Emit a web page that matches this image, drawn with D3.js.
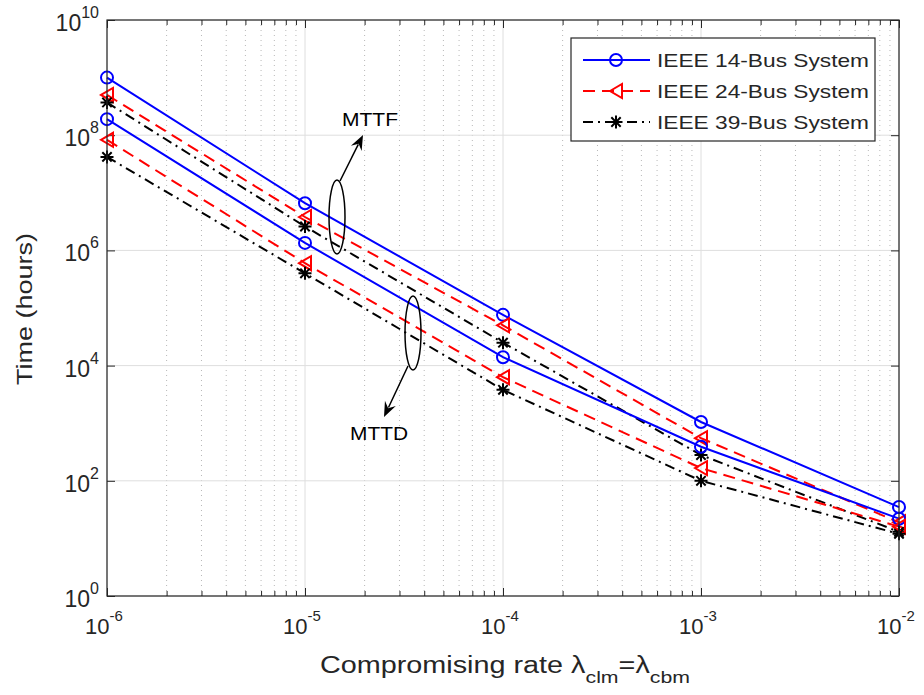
<!DOCTYPE html>
<html>
<head>
<meta charset="utf-8">
<script src="https://cdn.jsdelivr.net/npm/d3@7"></script>
<style>
  body { margin: 0; background: #fff; }
  text { font-family: "Liberation Sans", Arial, Helvetica, sans-serif; fill: #262626; }
</style>
</head>
<body>
<svg id="chart" width="924" height="695"></svg>
<script>
// Compromising rate (lambda_clm = lambda_cbm)
const rates = [1e-6, 1e-5, 1e-4, 1e-3, 1e-2];

// Mean time to failure (hours)
const mttf14 = [1.0e9, 6.6e6, 7.6e4, 1.05e3, 35];
const mttf24 = [5.0e8, 3.8e6, 5.0e4, 5.5e2, 19];
const mttf39 = [3.7e8, 2.6e6, 2.5e4, 2.8e2, 13];

// Mean time to detection (hours)
const mttd14 = [1.9e8, 1.35e6, 1.4e4, 3.9e2, 22];
const mttd24 = [8.3e7, 6.0e5, 6.3e3, 1.66e2, 16];
const mttd39 = [4.2e7, 4.0e5, 3.8e3, 1.0e2, 12];

const systemNames = ["IEEE 14-Bus System", "IEEE 24-Bus System", "IEEE 39-Bus System"];
const xTickExps = [-6, -5, -4, -3, -2];
const yTickExps = [0, 2, 4, 6, 8, 10];

const styles = [
  { color: "#0000ff", dash: null, marker: "circle" },
  { color: "#ff0000", dash: "12,7", marker: "triangle" },
  { color: "#000000", dash: "10,5,2,5", marker: "star" }
];

const series = [
  { values: mttf14, sys: 0 }, { values: mttf24, sys: 1 }, { values: mttf39, sys: 2 },
  { values: mttd14, sys: 0 }, { values: mttd24, sys: 1 }, { values: mttd39, sys: 2 }
];

const svg = d3.select("#chart");
const L = 107, R = 899, T = 20, B = 596;

const x = d3.scaleLog().domain([1e-6, 1e-2]).range([L, R]);
const y = d3.scaleLog().domain([1, 1e10]).range([B, T]);

const xMinor = [];
for (let e = -6; e < -2; e++) for (let k = 2; k <= 9; k++) xMinor.push(k * Math.pow(10, e));
const xMajor = xTickExps.map(e => Math.pow(10, e));
const yMajor = yTickExps.map(e => Math.pow(10, e));

// grid
const grid = svg.append("g");
grid.selectAll(".minor").data(xMinor).join("line")
  .attr("x1", d => x(d)).attr("x2", d => x(d)).attr("y1", T).attr("y2", B)
  .attr("stroke", "#b8b8b8").attr("stroke-width", 1).attr("stroke-dasharray", "1,4");
grid.selectAll(".vmaj").data(xMajor).join("line")
  .attr("x1", d => x(d)).attr("x2", d => x(d)).attr("y1", T).attr("y2", B)
  .attr("stroke", "#dedede").attr("stroke-width", 1);
grid.selectAll(".hmaj").data(yMajor).join("line")
  .attr("x1", L).attr("x2", R).attr("y1", d => y(d)).attr("y2", d => y(d))
  .attr("stroke", "#dedede").attr("stroke-width", 1);

// axes with inward ticks
function styleAxis(g) {
  g.select(".domain").remove();
  g.selectAll("line").attr("stroke", "#262626");
}
svg.append("g").attr("transform", `translate(0,${B})`)
  .call(d3.axisBottom(x).tickValues(xMajor).tickSize(-8).tickFormat("")).call(styleAxis);
svg.append("g").attr("transform", `translate(0,${B})`)
  .call(d3.axisBottom(x).tickValues(xMinor).tickSize(-5).tickFormat("")).call(styleAxis);
svg.append("g").attr("transform", `translate(0,${T})`)
  .call(d3.axisTop(x).tickValues(xMajor).tickSize(-8).tickFormat("")).call(styleAxis);
svg.append("g").attr("transform", `translate(0,${T})`)
  .call(d3.axisTop(x).tickValues(xMinor).tickSize(-5).tickFormat("")).call(styleAxis);
svg.append("g").attr("transform", `translate(${L},0)`)
  .call(d3.axisLeft(y).tickValues(yMajor).tickSize(-8).tickFormat("")).call(styleAxis);
svg.append("g").attr("transform", `translate(${R},0)`)
  .call(d3.axisRight(y).tickValues(yMajor).tickSize(-8).tickFormat("")).call(styleAxis);

// tick labels with superscript exponents
xTickExps.forEach(e => {
  const t = svg.append("text").attr("x", x(Math.pow(10, e)) - 3).attr("y", 634)
    .attr("text-anchor", "middle").attr("font-size", 22);
  t.append("tspan").text("10");
  t.append("tspan").attr("dy", -13).attr("font-size", 15).text(String(e));
});
yTickExps.forEach(e => {
  const t = svg.append("text").attr("x", 99).attr("y", y(Math.pow(10, e)) + 11)
    .attr("text-anchor", "end").attr("font-size", 23);
  t.append("tspan").text("10");
  t.append("tspan").attr("dy", -13).attr("font-size", 16).text(String(e));
});

// data lines and markers
const line = d3.line().x((d, i) => x(rates[i])).y(d => y(d));

function drawMarker(g, type, color, cx, cy) {
  if (type === "circle") {
    g.append("circle").attr("cx", cx).attr("cy", cy).attr("r", 6)
      .attr("fill", "none").attr("stroke", color).attr("stroke-width", 2);
  } else if (type === "triangle") {
    g.append("path").attr("d", `M${cx - 6},${cy} L${cx + 6},${cy - 7} L${cx + 6},${cy + 7} Z`)
      .attr("fill", "none").attr("stroke", color).attr("stroke-width", 2);
  } else {
    const r = 6.5, q = r * 0.72;
    g.append("path")
      .attr("d", `M${cx - r},${cy} L${cx + r},${cy} M${cx},${cy - r} L${cx},${cy + r} M${cx - q},${cy - q} L${cx + q},${cy + q} M${cx - q},${cy + q} L${cx + q},${cy - q}`)
      .attr("stroke", color).attr("stroke-width", 2).attr("fill", "none");
  }
}

const plot = svg.append("g");
series.forEach(s => {
  const st = styles[s.sys];
  plot.append("path").datum(s.values).attr("d", line)
    .attr("fill", "none").attr("stroke", st.color).attr("stroke-width", 2)
    .attr("stroke-dasharray", st.dash);
});
series.forEach(s => {
  const st = styles[s.sys];
  s.values.forEach((v, i) => drawMarker(plot, st.marker, st.color, x(rates[i]), y(v)));
});

// axes box
svg.append("rect").attr("x", L).attr("y", T).attr("width", R - L).attr("height", B - T)
  .attr("fill", "none").attr("stroke", "#262626").attr("stroke-width", 1.2);

// annotation: ellipses, arrows, labels
function arrow(x0, y0, x1, y1) {
  const dx = x1 - x0, dy = y1 - y0, len = Math.hypot(dx, dy);
  const ux = dx / len, uy = dy / len, nx = -uy, ny = ux;
  const hl = 15, hw = 6;
  svg.append("line").attr("x1", x0).attr("y1", y0)
    .attr("x2", x1 - ux * hl * 0.7).attr("y2", y1 - uy * hl * 0.7)
    .attr("stroke", "#000").attr("stroke-width", 1.5);
  const p = [
    [x1, y1],
    [x1 - ux * hl + nx * hw, y1 - uy * hl + ny * hw],
    [x1 - ux * hl * 0.65, y1 - uy * hl * 0.65],
    [x1 - ux * hl - nx * hw, y1 - uy * hl - ny * hw]
  ];
  svg.append("path").attr("d", "M" + p.map(q => q.join(",")).join("L") + "Z").attr("fill", "#000");
}
svg.append("ellipse").attr("cx", 337).attr("cy", 217).attr("rx", 8).attr("ry", 37)
  .attr("fill", "none").attr("stroke", "#000").attr("stroke-width", 1.5);
arrow(340, 181, 363, 135);
svg.append("text").attr("x", 370).attr("y", 126).attr("text-anchor", "middle")
  .attr("font-size", 19).attr("textLength", 56).attr("lengthAdjust", "spacingAndGlyphs")
  .style("fill", "#000").text("MTTF");

svg.append("ellipse").attr("cx", 413).attr("cy", 333).attr("rx", 8).attr("ry", 37)
  .attr("fill", "none").attr("stroke", "#000").attr("stroke-width", 1.5);
arrow(408, 366, 384, 417);
svg.append("text").attr("x", 379).attr("y", 440).attr("text-anchor", "middle")
  .attr("font-size", 19).attr("textLength", 58).attr("lengthAdjust", "spacingAndGlyphs")
  .style("fill", "#000").text("MTTD");

// legend
const lg = svg.append("g");
lg.append("rect").attr("x", 571).attr("y", 38).attr("width", 304).attr("height", 103)
  .attr("fill", "#fff").attr("stroke", "#262626").attr("stroke-width", 1.2);
systemNames.forEach((name, i) => {
  const st = styles[i];
  const ly = 60 + i * 31;
  lg.append("line").attr("x1", 583).attr("x2", 650).attr("y1", ly).attr("y2", ly)
    .attr("stroke", st.color).attr("stroke-width", 2).attr("stroke-dasharray", st.dash);
  drawMarker(lg, st.marker, st.color, 616, ly);
  lg.append("text").attr("x", 657).attr("y", ly + 7).attr("font-size", 19)
    .attr("textLength", 212).attr("lengthAdjust", "spacingAndGlyphs").text(name);
});

// axis titles
const xl = svg.append("text").attr("x", 320).attr("y", 673).attr("font-size", 23)
  .attr("textLength", 370).attr("lengthAdjust", "spacingAndGlyphs");
xl.append("tspan").text("Compromising rate ");
xl.append("tspan").text("λ");
xl.append("tspan").attr("dy", 10).attr("font-size", 17).text("clm");
xl.append("tspan").attr("dy", -10).text("=λ");
xl.append("tspan").attr("dy", 10).attr("font-size", 17).text("cbm");

svg.append("text").attr("transform", "translate(32,309) rotate(-90)")
  .attr("text-anchor", "middle").attr("font-size", 22)
  .attr("textLength", 152).attr("lengthAdjust", "spacingAndGlyphs").text("Time (hours)");
</script>
</body>
</html>
